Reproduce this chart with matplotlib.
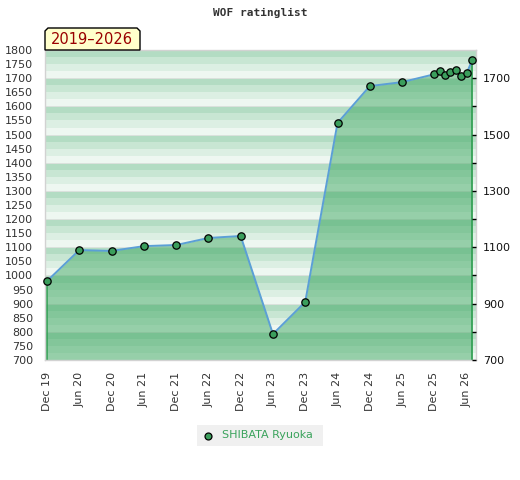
import matplotlib
matplotlib.use("Agg")
import matplotlib.pyplot as plt
from matplotlib.patches import Polygon, Rectangle
from matplotlib.lines import Line2D

# ---- data ----
months = ["2019-12", "2020-06", "2020-12", "2021-06", "2021-12", "2022-06",
          "2022-12", "2023-06", "2023-12", "2024-06", "2024-12", "2025-06",
          "2025-12", "2026-01", "2026-02", "2026-03", "2026-04", "2026-05",
          "2026-06", "2026-07"]
ratings = [980, 1090, 1087, 1104, 1108, 1133, 1140, 792, 906, 1541, 1672,
           1686, 1714, 1724, 1710, 1721, 1728, 1707, 1717, 1763]
tick_labels = ["Dec 19", "Jun 20", "Dec 20", "Jun 21", "Dec 21", "Jun 22",
               "Dec 22", "Jun 23", "Dec 23", "Jun 24", "Dec 24", "Jun 25",
               "Dec 25", "Jun 26"]
left_ticks = list(range(700, 1801, 50))
right_ticks = [700, 900, 1100, 1300, 1500, 1700]
right_minor = [800, 1000, 1200, 1400, 1600]
player = "SHIBATA Ryuoka"
title = "WOF ratinglist"
period = "2019\u20132026"


def month_index(s):
    y, m = map(int, s.split("-"))
    return (y - 2019) * 12 + (m - 12)


x = [month_index(s) for s in months]
tick_pos = [i * 6 for i in range(len(tick_labels))]

W, H = 520, 480
fig = plt.figure(figsize=(W / 100, H / 100), dpi=100)
fig.patch.set_facecolor("white")


def fx(px):
    return px / W


def fy(py):
    return 1 - py / H


ax = fig.add_axes([fx(45), fy(360), (476 - 45) / W, (360 - 50) / H])
ymin, ymax = 700, 1800
ax.set_ylim(ymin, ymax)
ax.set_xlim(-0.37, 79.74)

band_cols = ["#eef7f1", "#dcefe3", "#c8e6d3", "#b3dcc3"]
for base in range(ymin, ymax, 100):
    for k, c in enumerate(band_cols):
        ax.axhspan(base + 25 * k, base + 25 * (k + 1), color=c, lw=0, zorder=0)
    ax.axhline(base, color="#e2e2e2", lw=0.6, zorder=0.5)

green = "#3fa862"
ax.fill_between(x, ratings, ymin, color=green, alpha=0.5, lw=0, zorder=1)
ax.plot([x[0], x[0]], [ymin, ratings[0]], color="#2e9e50", lw=1.2, zorder=2)
ax.plot([x[-1], x[-1]], [ymin, ratings[-1]], color="#2e9e50", lw=1.2, zorder=2)
ax.plot(x, ratings, color="#5b9fd6", lw=1.4, zorder=3)
ax.plot(x, ratings, "o", ms=5.3, mfc="#3b9e5c", mec="black", mew=0.9,
        zorder=4, clip_on=False)

for s in ax.spines.values():
    s.set_color("#d2d2d2")
    s.set_linewidth(1.0)

ax.set_yticks(left_ticks)
ax.set_yticklabels([str(v) for v in left_ticks])
ax.tick_params(axis="y", length=0, pad=8.5, labelsize=8, labelcolor="#333333")
ax.set_xticks(tick_pos)
ax.set_xticklabels(tick_labels, rotation=90)
ax.tick_params(axis="x", length=0, pad=8.5, labelsize=8, labelcolor="#333333")

ax2 = ax.twinx()
ax2.set_ylim(ymin, ymax)
ax2.set_yticks(right_ticks)
ax2.set_yticklabels([str(v) for v in right_ticks])
ax2.set_yticks(right_minor, minor=True)
ax2.tick_params(axis="y", which="both", direction="in", length=3, width=1,
                color="black", pad=5, labelsize=8, labelcolor="#111111")
for s in ax2.spines.values():
    s.set_visible(False)

# title
fig.text(fx(260), fy(13), title, ha="center", va="center",
         family="DejaVu Sans Mono", fontsize=8, fontweight="bold",
         color="#333333")

# period tab
tab = Polygon([(fx(45), fy(50)), (fx(45), fy(31)), (fx(48), fy(28)),
               (fx(137), fy(28)), (fx(140), fy(31)), (fx(140), fy(50))],
              closed=True, transform=fig.transFigure, facecolor="#ffffcc",
              edgecolor="black", lw=1.0, zorder=5, joinstyle="miter")
fig.patches.append(tab)
fig.text(fx(92), fy(40), period, ha="center", va="center", fontsize=10.5,
         color="#990000", zorder=6)

# legend
leg = Rectangle((fx(197), fy(446)), (323 - 197) / W, (446 - 425) / H,
                transform=fig.transFigure, facecolor="#f0f0f0", lw=0)
fig.patches.append(leg)
fig.lines.append(Line2D([fx(208)], [fy(435.5)], marker="o", ms=5.0,
                        mfc="#3b9e5c", mec="black", mew=0.9, ls="none",
                        transform=fig.transFigure))
fig.text(fx(222), fy(435.5), player, ha="left", va="center", fontsize=8,
         color="#3aa35c")

fig.savefig("out.png", dpi=100)
